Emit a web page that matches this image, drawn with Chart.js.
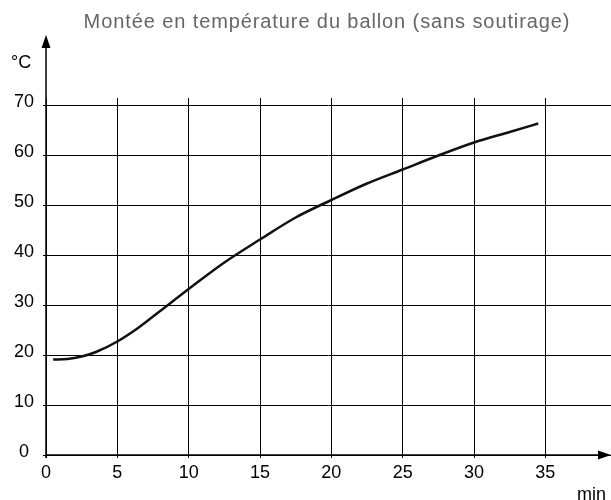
<!DOCTYPE html>
<html>
<head>
<meta charset="utf-8">
<script src="https://cdn.jsdelivr.net/npm/chart.js@4/dist/chart.umd.min.js"></script>
<style>
  body { margin: 0; background: #fff; }
  #wrap { width: 611px; height: 500px; }
</style>
</head>
<body>
<div id="wrap"><canvas id="chart"></canvas></div>
<script>
const minutes = [0.5, 1.5, 2.5, 3.5, 5, 6.5, 8, 10, 12.5, 15, 17.5, 20, 22.5, 25, 27.5, 30, 32.5, 34.5];
const temperatures = [19.1, 19.2, 19.7, 20.6, 22.7, 25.5, 28.8, 33.2, 38.5, 43.1, 47.5, 51, 54.3, 57.1, 59.9, 62.5, 64.6, 66.3];
const xTicks = [0, 5, 10, 15, 20, 25, 30, 35];
const yTicks = [0, 10, 20, 30, 40, 50, 60, 70];
const title = 'Montée en température du ballon (sans soutirage)';

const font = "'Liberation Sans', Arial, sans-serif";

// title, axis arrows and unit labels drawn by hand
const arrowAxes = {
  id: 'arrowAxes',
  afterDraw(chart) {
    const { ctx, chartArea: a } = chart;
    ctx.save();
    ctx.font = '20px ' + font;
    ctx.fillStyle = '#666';
    ctx.textAlign = 'center';
    ctx.textBaseline = 'alphabetic';
    ctx.letterSpacing = '0.9px';
    ctx.fillText(title, 327, 28);
    ctx.letterSpacing = '0px';

    ctx.strokeStyle = '#000';
    ctx.fillStyle = '#000';
    ctx.lineWidth = 1.5;
    ctx.beginPath();
    ctx.moveTo(a.left, a.bottom + 3);
    ctx.lineTo(a.left, 40);
    ctx.moveTo(a.left, a.bottom);
    ctx.lineTo(604, a.bottom);
    ctx.stroke();
    ctx.beginPath();
    ctx.moveTo(a.left, 35);
    ctx.lineTo(a.left - 4.5, 48);
    ctx.lineTo(a.left + 4.5, 48);
    ctx.closePath();
    ctx.fill();
    ctx.beginPath();
    ctx.moveTo(611, a.bottom);
    ctx.lineTo(598, a.bottom - 4.5);
    ctx.lineTo(598, a.bottom + 4.5);
    ctx.closePath();
    ctx.fill();
    ctx.font = '18px ' + font;
    ctx.textBaseline = 'middle';
    ctx.textAlign = 'left';
    ctx.fillText('°C', 11, 63);
    ctx.fillText('min', 577, 495);
    ctx.restore();
  }
};

new Chart(document.getElementById('chart'), {
  type: 'line',
  plugins: [arrowAxes],
  data: {
    datasets: [{
      data: minutes.map((m, i) => ({ x: m, y: temperatures[i] })),
      borderColor: '#111',
      borderWidth: 2.5,
      pointRadius: 0,
      cubicInterpolationMode: 'monotone',
      fill: false
    }]
  },
  options: {
    responsive: true,
    maintainAspectRatio: false,
    animation: false,
    layout: { padding: { top: 98 } },
    plugins: {
      legend: { display: false },
      tooltip: { enabled: false }
    },
    scales: {
      x: {
        type: 'linear',
        min: 0,
        max: 39.6,
        afterFit: s => { s.height = 45; },
        afterBuildTicks: s => { s.ticks = xTicks.map(v => ({ value: v })); },
        border: { display: false },
        grid: { color: '#000', lineWidth: 1, tickLength: 3 },
        ticks: { color: '#000', padding: 4, maxRotation: 0, font: { family: font, size: 18 } }
      },
      y: {
        min: 0,
        max: 71.4,
        afterFit: s => { s.width = 46; },
        afterBuildTicks: s => { s.ticks = yTicks.map(v => ({ value: v })); },
        border: { display: false },
        grid: { color: '#000', lineWidth: 1, tickLength: 3 },
        ticks: { color: '#000', padding: 9, crossAlign: 'center', labelOffset: -3, font: { family: font, size: 18 } }
      }
    }
  }
});
</script>
</body>
</html>
